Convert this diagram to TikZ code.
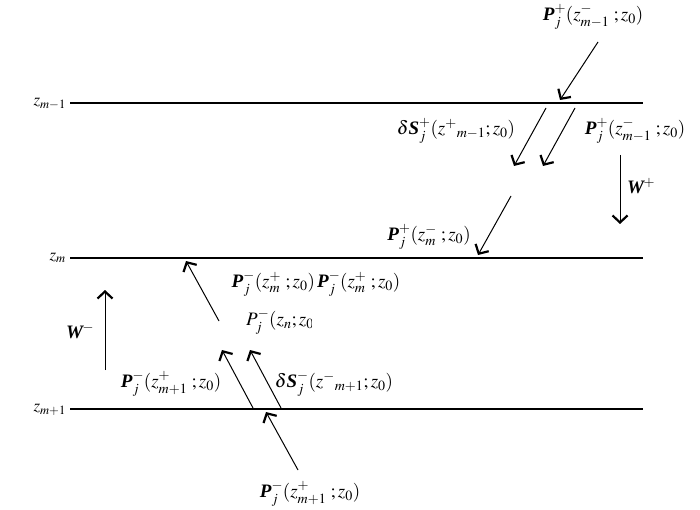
\documentclass[tikz,border=0pt]{standalone}
\usepackage{mathptmx}
\usepackage{fontspec}
\setmainfont{Liberation Serif}
\usetikzlibrary{arrows.meta}
\newcommand{\bfP}{\textbf{\textit{P}}}
\newcommand{\bfS}{\textbf{\textit{S}}}
\newcommand{\bfW}{\textbf{\textit{W}}}
\tikzset{
  layer/.style={line width=1.6pt},
  flow/.style={line width=1pt,-{Straight Barb[length=7pt,width=15pt,line width=2.2pt]}},
  lbl/.style={inner sep=0pt,font=\fontsize{19}{21}\selectfont},
  zlbl/.style={inner sep=0pt,font=\fontsize{17}{19}\selectfont,anchor=east}
}
\begin{document}
\begin{tikzpicture}[x=1pt,y=-1pt]
\useasboundingbox (0,0) rectangle (700,510);
% layers
\coordinate (L1a) at (70,103); \coordinate (L1b) at (643,103);
\coordinate (L2a) at (70,258); \coordinate (L2b) at (643,258);
\coordinate (L3a) at (70,409); \coordinate (L3b) at (643,409);
\draw[layer] (L1a) -- (L1b);
\draw[layer] (L2a) -- (L2b);
\draw[layer] (L3a) -- (L3b);
\node[zlbl] (z1) at (66,104) {$z_{m-1}$};
\node[zlbl] (z2) at (66,258) {$z_{m}$};
\node[zlbl] (z3) at (66,410) {$z_{m+1}$};
% top incoming
\node[lbl] (t1) at (593,17) {$\bfP_j^{+}(z^{-}_{m-1}\;;z_0)$};
\coordinate (a1s) at (598,42); \coordinate (a1e) at (560,100);
\draw[flow] (a1s) -- (a1e);
% two downward arrows
\coordinate (a2s) at (546,108); \coordinate (a2e) at (514,166);
\coordinate (a3s) at (575,108); \coordinate (a3e) at (543,166);
\draw[flow] (a2s) -- (a2e);
\draw[flow] (a3s) -- (a3e);
\node[lbl] (dS1) at (456,131) {$\delta\bfS_j^{+}(z^{+}{}_{m-1};z_0)$};
\node[lbl] (P1) at (635,131) {$\bfP_j^{+}(z^{-}_{m-1}\;;z_0)$};
% arrow to z_m
\coordinate (a4s) at (511,196); \coordinate (a4e) at (478,255);
\draw[flow] (a4s) -- (a4e);
\node[lbl] (P2) at (429,237) {$\bfP_j^{+}(z^{-}_{m}\;;z_0)$};
% W+
\coordinate (w1s) at (620,155); \coordinate (w1e) at (620,224);
\draw[flow] (w1s) -- (w1e);
\node[lbl] (W1) at (641,186) {$\bfW^{\!+}$};
% W-
\coordinate (w2s) at (105,370); \coordinate (w2e) at (105,290);
\draw[flow] (w2s) -- (w2e);
\node[lbl] (W2) at (80,331) {$\bfW^{\!-}$};
% arrow up to z_m
\coordinate (a5s) at (219,321); \coordinate (a5e) at (186,261);
\draw[flow] (a5s) -- (a5e);
\node[lbl] (P3) at (316,284) {$\bfP_j^{-}(z^{+}_{m}\;;z_0)\,\bfP_j^{-}(z^{+}_{m}\;;z_0)$};
\begin{scope}
\clip (240,305) rectangle (311,340);
\node[lbl,anchor=west] (P4) at (246,322) {$P_j^{-}(z_n;z_0)$};
\end{scope}
% two upward arrows
\coordinate (a6s) at (253,408); \coordinate (a6e) at (222,350);
\coordinate (a7s) at (281,408); \coordinate (a7e) at (250,350);
\draw[flow] (a6s) -- (a6e);
\draw[flow] (a7s) -- (a7e);
\node[lbl] (P5) at (171,384) {$\bfP_j^{-}(z^{+}_{m+1}\;;z_0)$};
\node[lbl] (dS2) at (334,384) {$\delta\bfS_j^{-}(z^{-}{}_{m+1};z_0)$};
% bottom incoming
\coordinate (a8s) at (298,470); \coordinate (a8e) at (266,412);
\draw[flow] (a8s) -- (a8e);
\node[lbl] (P6) at (310,494) {$\bfP_j^{-}(z^{+}_{m+1}\;;z_0)$};
\end{tikzpicture}
\end{document}
